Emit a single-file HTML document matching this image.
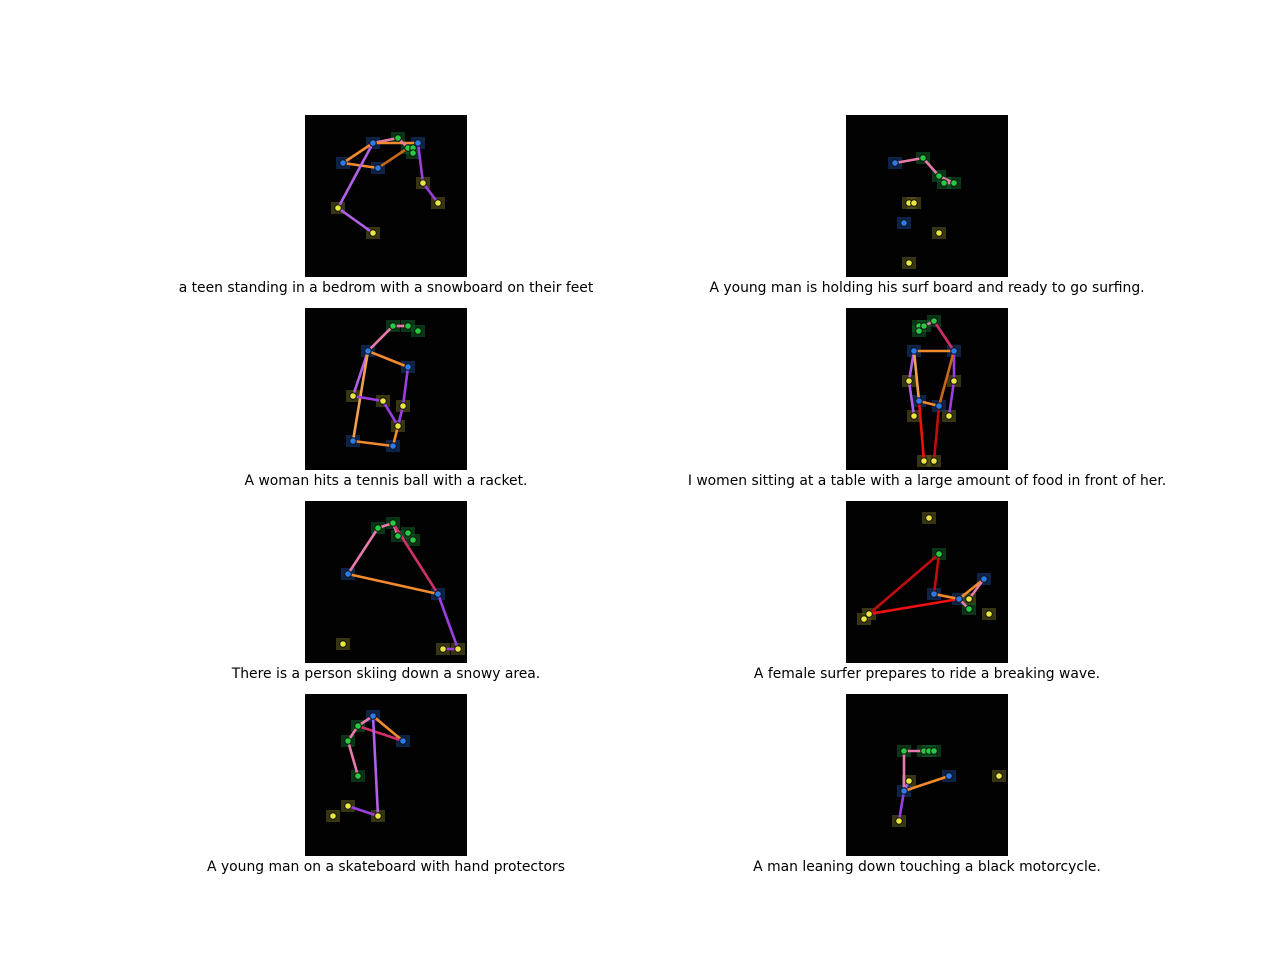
<!DOCTYPE html>
<html><head><meta charset="utf-8"><style>
body{margin:0;background:#fff;width:1280px;height:960px;overflow:hidden}
svg{position:absolute;left:0;top:0}
</style></head><body>
<svg id="s" width="1280" height="960" xmlns="http://www.w3.org/2000/svg"></svg>
<script>
const captions=["a teen standing in a bedrom with a snowboard on their feet","A young man is holding his surf board and ready to go surfing.","A woman hits a tennis ball with a racket.","I women sitting at a table with a large amount of food in front of her.","There is a person skiing down a snowy area.","A female surfer prepares to ride a breaking wave.","A young man on a skateboard with hand protectors","A man leaning down touching a black motorcycle."];
const p1=[[68,28,'b'],[38,48,'b'],[73,53,'b'],[93,23,'g'],[103,33,'g'],[108,33,'g'],[108,38,'g'],[113,28,'b'],[118,68,'y'],[133,88,'y'],[33,93,'y'],[68,118,'y']];
const e1=[[0,3,'#e47ba8'],[0,7,'#f28a2e'],[0,1,'#f28a2e'],[1,2,'#f28a2e'],[2,4,'#c8661a'],[3,4,'#e47ba8'],[7,8,'#9b3fe0'],[8,9,'#9b3fe0'],[0,10,'#b160e8'],[10,11,'#b160e8']];
const p2=[[49,48,'b'],[77,43,'g'],[93,61,'g'],[98,68,'g'],[108,68,'g'],[63,88,'y'],[68,88,'y'],[58,108,'b'],[93,118,'y'],[63,148,'y']];
const e2=[[0,1,'#e47ba8'],[1,2,'#e47ba8'],[2,4,'#e47ba8'],[3,4,'#e47ba8']];
const p3=[[88,18,'g'],[103,18,'g'],[113,23,'g'],[63,43,'b'],[103,59,'b'],[48,88,'y'],[78,93,'y'],[98,98,'y'],[93,118,'y'],[48,133,'b'],[88,138,'b']];
const e3=[[3,0,'#e47ba8'],[0,1,'#e47ba8'],[3,4,'#f28a2e'],[3,5,'#b160e8'],[3,9,'#f2a050'],[4,7,'#9b3fe0'],[5,6,'#9b3fe0'],[6,8,'#9b3fe0'],[7,8,'#9b3fe0'],[9,10,'#f28a2e'],[10,8,'#f28a2e']];
const p4=[[88,13,'g'],[73,18,'g'],[78,18,'g'],[73,23,'g'],[68,43,'b'],[108,43,'b'],[63,73,'y'],[108,73,'y'],[68,108,'y'],[103,108,'y'],[73,93,'b'],[93,98,'b'],[78,153,'y'],[88,153,'y']];
const e4=[[0,2,'#e47ba8'],[0,5,'#d0306a'],[4,5,'#f28a2e'],[4,6,'#b160e8'],[6,8,'#b160e8'],[5,7,'#9b3fe0'],[7,9,'#9b3fe0'],[4,10,'#f2a050'],[5,11,'#c8661a'],[10,11,'#f28a2e'],[10,12,'#ee1111'],[11,13,'#c00d0d']];
const p5=[[73,27,'g'],[88,22,'g'],[93,35,'g'],[103,32,'g'],[108,39,'g'],[43,73,'b'],[133,93,'b'],[38,143,'y'],[138,148,'y'],[153,148,'y']];
const e5=[[5,0,'#e47ba8'],[0,1,'#e47ba8'],[1,2,'#e47ba8'],[1,6,'#d0306a'],[5,6,'#f28a2e'],[6,9,'#9b3fe0'],[8,9,'#9b3fe0']];
const p6=[[83,17,'y'],[93,53,'g'],[88,93,'b'],[113,98,'b'],[123,98,'y'],[138,78,'b'],[123,108,'g'],[143,113,'y'],[23,113,'y'],[18,118,'y']];
const e6=[[1,8,'#c00d0d'],[1,2,'#c00d0d'],[8,3,'#ee1111'],[2,3,'#f28a2e'],[3,5,'#f28a2e'],[4,5,'#e47ba8'],[6,3,'#e47ba8']];
const p7=[[68,22,'b'],[53,32,'g'],[43,47,'g'],[53,82,'g'],[98,47,'b'],[43,112,'y'],[28,122,'y'],[73,122,'y']];
const e7=[[0,4,'#f28a2e'],[1,4,'#d0306a'],[1,0,'#e47ba8'],[2,1,'#e47ba8'],[2,3,'#e47ba8'],[0,7,'#b160e8'],[5,7,'#9b3fe0']];
const p8=[[58,57,'g'],[78,57,'g'],[83,57,'g'],[88,57,'g'],[103,82,'b'],[63,87,'y'],[58,97,'b'],[53,127,'y'],[153,82,'y']];
const e8=[[0,1,'#e47ba8'],[1,3,'#e47ba8'],[0,6,'#e47ba8'],[6,4,'#f28a2e'],[6,7,'#9b3fe0'],[5,6,'#b160e8']];
const allPts=[p1,p2,p3,p4,p5,p6,p7,p8], allEdges=[e1,e2,e3,e4,e5,e6,e7,e8];

const NS="http://www.w3.org/2000/svg", svg=document.getElementById('s');
const colX=[305,846], rowY=[115,308,501,694], SZ=162, IMG=162;
const ptCol={b:'#2a7be8',g:'#28c840',y:'#e8e640'}, heatCol={b:'#163a78',g:'#0e5a26',y:'#5e5a1c'};
function mk(t,a,p){const e=document.createElementNS(NS,t);for(const k in a)e.setAttribute(k,a[k]);(p||svg).appendChild(e);return e;}
for(let i=0;i<8;i++){
  const ox=colX[i%2], oy=rowY[Math.floor(i/2)], sc=SZ/IMG;
  const X=v=>ox+v*sc, Y=v=>oy+v*sc;
  const g=mk('g',{});
  
  
  const bg=mk('rect',{x:ox,y:oy,width:SZ,height:SZ,fill:'#020202'},g);
  
  
  allPts[i].forEach(p=>{
    const h=mk('rect',{x:X(p[0])-7,y:Y(p[1])-6,width:14,height:12,fill:heatCol[p[2]],opacity:0.6},g);
    
    
  });
  allEdges[i].forEach(e=>{
    const a=allPts[i][e[0]], b=allPts[i][e[1]];
    const l=mk('line',{x1:X(a[0]),y1:Y(a[1]),x2:X(b[0]),y2:Y(b[1]),stroke:e[2],'stroke-width':2.6},g);
    
    
  });
  allPts[i].forEach(p=>{
    const c=mk('circle',{cx:X(p[0]),cy:Y(p[1]),r:3.3,fill:ptCol[p[2]],stroke:'#111','stroke-width':1},g);
    
    
  });
  const t=mk('text',{x:ox+SZ/2,y:oy+SZ+15,'text-anchor':'middle','font-family':'DejaVu Sans, Liberation Sans, sans-serif','font-size':13.9,fill:'#000'});
  t.textContent=captions[i];
  
  
}
</script>
</body></html>
